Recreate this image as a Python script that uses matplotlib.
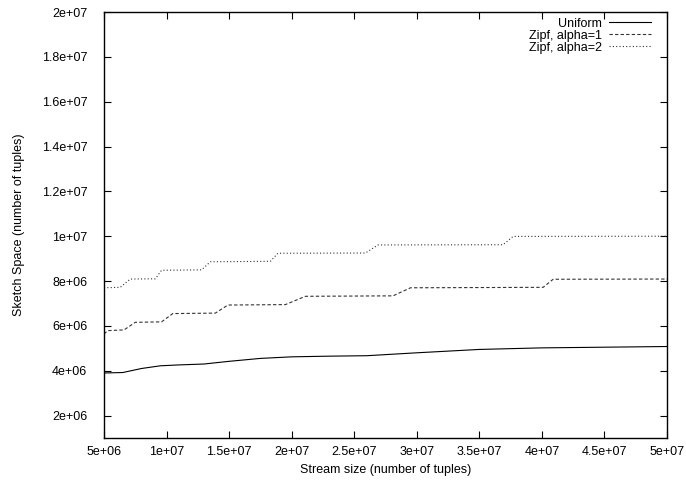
import numpy as np
import matplotlib.pyplot as plt
from matplotlib.ticker import FuncFormatter

plt.rcParams['font.family'] = ['Liberation Sans', 'DejaVu Sans']
plt.rcParams['font.size'] = 9

# stream size (tuples) vs sketch space
uni_x = [5e6, 6.5e6, 8e6, 9.5e6, 1.1e7, 1.3e7, 1.5e7, 1.75e7, 2e7, 2.3e7, 2.6e7,
         3e7, 3.5e7, 4e7, 4.5e7, 5e7]
uni_y = [3.9e6, 3.92e6, 4.1e6, 4.22e6, 4.26e6, 4.3e6, 4.42e6, 4.55e6, 4.62e6, 4.65e6,
         4.67e6, 4.8e6, 4.95e6, 5.02e6, 5.05e6, 5.08e6]

z1_x = [5e6, 5.3e6, 6.6e6, 7.5e6, 9.6e6, 1.05e7, 1.39e7, 1.49e7, 1.95e7, 2.11e7,
        2.81e7, 2.95e7, 4.01e7, 4.09e7, 5e7]
z1_y = [5.64e6, 5.79e6, 5.82e6, 6.16e6, 6.18e6, 6.55e6, 6.57e6, 6.93e6, 6.95e6, 7.32e6,
        7.34e6, 7.7e6, 7.72e6, 8.08e6, 8.09e6]

z2_x = [5e6, 6.3e6, 7.1e6, 9.1e6, 9.6e6, 1.28e7, 1.35e7, 1.83e7, 1.89e7, 2.59e7,
        2.69e7, 3.69e7, 3.77e7, 5e7]
z2_y = [7.7e6, 7.72e6, 8.09e6, 8.1e6, 8.48e6, 8.5e6, 8.86e6, 8.88e6, 9.24e6, 9.25e6,
        9.61e6, 9.62e6, 9.99e6, 10.0e6]

xticks = [5e6, 1e7, 1.5e7, 2e7, 2.5e7, 3e7, 3.5e7, 4e7, 4.5e7, 5e7]
yticks = [2e6, 4e6, 6e6, 8e6, 1e7, 1.2e7, 1.4e7, 1.6e7, 1.8e7, 2e7]

fig = plt.figure(figsize=(6.86, 4.8), dpi=100)
ax = fig.add_axes([0.1516, 0.0875, 0.8207, 0.8875])

ax.plot(uni_x, uni_y, color='black', lw=0.8, label='Uniform')
ax.plot(z1_x, z1_y, color='#333333', lw=0.8, ls=(0, (3, 2)), label='Zipf, alpha=1')
ax.plot(z2_x, z2_y, color='#333333', lw=0.8, ls=(0, (1, 2)), label='Zipf, alpha=2')

ax.set_xlim(5e6, 5e7)
ax.set_ylim(1e6, 2e7)
ax.set_xticks(xticks)
ax.set_yticks(yticks)
fmt = FuncFormatter(lambda v, p: '%g' % v)
ax.xaxis.set_major_formatter(fmt)
ax.yaxis.set_major_formatter(fmt)
ax.tick_params(direction='in', length=5, width=0.8, top=True, right=True)
ax.tick_params(axis='x', pad=6)
ax.tick_params(axis='y', pad=12)
for s in ax.spines.values():
    s.set_linewidth(1.0)

ax.set_xlabel('Stream size (number of tuples)', labelpad=4)
ax.set_ylabel('Sketch Space (number of tuples)', labelpad=12)

ax.legend(loc='upper right', bbox_to_anchor=(0.973, 0.99), frameon=False,
          markerfirst=False, handlelength=3.3, labelspacing=0.0, handletextpad=0.6,
          borderpad=0.1, borderaxespad=0.0)

fig.savefig('out.png', dpi=100)
